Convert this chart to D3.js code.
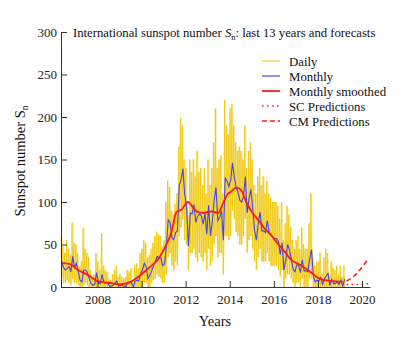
<!DOCTYPE html>
<html>
<head>
<meta charset="utf-8">
<script src="https://cdn.jsdelivr.net/npm/d3@7"></script>
<style>
  body { margin: 0; background: #fff; }
  svg { display: block; font-family: "Liberation Serif", "Times New Roman", serif; }
  .axis path, .axis line { stroke: #333; }
  .axis text { font-family: "Liberation Serif", serif; font-size: 13px; fill: #222; }
</style>
</head>
<body>
<svg id="chart" width="419" height="337"></svg>
<script>
// first month shown: May 2006
const firstMonth = 2006 + 4 / 12;

// monthly mean sunspot number, May 2006 .. Mar 2019
const monthly = [
  30, 23, 20, 22, 24, 18, 36, 23,
  28, 18, 8, 6, 20, 20, 17, 10, 4, 2, 3, 17,
  5, 4, 15, 5, 5, 5, 1, 1, 2, 5, 7, 1,
  2, 2, 1, 1, 5, 5, 5, 0, 7, 8, 7, 16,
  20, 28, 24, 10, 14, 19, 25, 30, 36, 34, 34, 25,
  27, 48, 79, 76, 58, 56, 64, 66, 120, 126, 139, 109,
  94, 48, 87, 86, 97, 76, 83, 86, 84, 74, 87, 62,
  96, 60, 77, 102, 117, 78, 82, 90, 55, 128, 125, 118,
  125, 146, 129, 117, 112, 102, 100, 106, 130, 87, 104, 115,
  93, 67, 55, 75, 88, 66, 66, 64, 78, 63, 62, 58,
  57, 57, 54, 38, 52, 20, 32, 50, 44, 33, 21, 18,
  26, 26, 17, 32, 19, 19, 18, 33, 44, 13, 6, 8,
  7, 11, 3, 9, 13, 16, 2, 9, 4, 4, 6, 3,
  8, 1, 9
];

// daily values: highest and lowest day of each month (same months)
const dailyHigh = [
  60, 48, 40, 55, 45, 38, 76, 52,
  50, 40, 25, 30, 69, 45, 40, 35, 20, 10, 15, 40,
  30, 20, 63, 25, 20, 18, 10, 8, 15, 20, 25, 12,
  15, 12, 10, 12, 20, 18, 22, 8, 25, 28, 22, 40,
  45, 55, 52, 35, 38, 45, 52, 60, 65, 62, 60, 48,
  55, 100, 125, 118, 90, 85, 98, 110, 165, 199, 190, 150,
  140, 85, 150, 135, 150, 130, 160, 135, 140, 120, 140, 110,
  150, 120, 140, 170, 210, 140, 150, 155, 110, 220, 190, 180,
  210, 215, 190, 170, 160, 165, 160, 150, 190, 140, 160, 170,
  150, 120, 110, 130, 140, 120, 130, 110, 125, 110, 105, 100,
  100, 100, 95, 80, 100, 55, 75, 95, 85, 70, 55, 45,
  55, 60, 45, 70, 50, 45, 45, 75, 110, 35, 25, 30,
  30, 40, 15, 35, 45, 40, 12, 30, 22, 20, 25, 15,
  25, 12, 25
];
const dailyLow = [
  10, 5, 5, 8, 5, 2, 10, 5,
  5, 2, 0, 0, 2, 5, 2, 0, 0, 0, 0, 0,
  0, 0, 0, 0, 0, 0, 0, 0, 0, 0, 0, 0,
  0, 0, 0, 0, 0, 0, 0, 0, 0, 0, 0, 0,
  0, 5, 5, 0, 0, 5, 8, 10, 15, 12, 10, 5,
  5, 15, 35, 40, 25, 20, 30, 25, 60, 70, 80, 55,
  50, 20, 40, 40, 45, 35, 30, 40, 35, 30, 40, 20,
  45, 25, 30, 50, 60, 35, 40, 40, 15, 60, 60, 55,
  60, 90, 80, 65, 60, 50, 50, 60, 80, 40, 55, 60,
  45, 30, 20, 35, 45, 30, 30, 30, 40, 30, 25, 25,
  25, 25, 20, 12, 20, 0, 10, 15, 15, 10, 5, 0,
  5, 5, 0, 10, 0, 0, 0, 10, 10, 0, 0, 0,
  0, 0, 0, 0, 0, 0, 0, 0, 0, 0, 0, 0,
  0, 0, 0
];

// 13-month smoothed
const smoothYears = [2006.36, 2006.75, 2007.12, 2007.57, 2008.0, 2008.5, 2009.0, 2009.5, 2009.95,
  2010.4, 2010.7, 2011.05, 2011.36, 2011.58, 2011.81, 2012.11, 2012.26, 2012.49, 2012.79,
  2013.17, 2013.47, 2013.69, 2013.92, 2014.05, 2014.3, 2014.52, 2014.75, 2014.98, 2015.28,
  2015.58, 2015.88, 2016.18, 2016.48, 2016.79, 2017.2, 2017.65, 2017.99, 2018.29, 2018.67, 2019.12];
const smoothVals = [28, 27, 20, 14, 7, 5, 3, 6, 14,
  24, 31, 46, 65, 88, 91, 100, 96, 89, 87,
  89, 87, 98, 110, 112, 117, 114, 100, 89, 79,
  69, 61, 51, 42, 32, 26, 18, 11, 8, 7, 6];

// forecasts
const scYears = [2019.3, 2019.8, 2020.3];
const scVals = [3, 3, 4];
const cmYears = [2019.3, 2019.6, 2019.9, 2020.25];
const cmVals = [7, 12, 20, 32];

const yTicks = [0, 50, 100, 150, 200, 250, 300];
const xTicks = [2008, 2010, 2012, 2014, 2016, 2018, 2020];

const legendItems = [
  {label: "Daily", color: "#f2c800", dash: null, w: 1},
  {label: "Monthly", color: "#4444ee", dash: null, w: 1.2},
  {label: "Monthly smoothed", color: "#ff1a1a", dash: null, w: 1.8},
  {label: "SC Predictions", color: "#ff1a1a", dash: "1.5,3.5", w: 1.5},
  {label: "CM Predictions", color: "#ff1a1a", dash: "5,3", w: 1.5}
];

const svg = d3.select("#chart");
svg.append("rect").attr("width", 419).attr("height", 337).attr("fill", "#fff");

const x = d3.scaleLinear().domain([2006.344, 2020.363]).range([61, 370]);
const y = d3.scaleLinear().domain([0, 300]).range([287, 32]);

const monthT = i => firstMonth + i / 12;

// light band of the daily spread
const band = d3.area()
  .x((d, i) => x(monthT(i) + 0.5 / 12))
  .y0((d, i) => y(dailyLow[i]))
  .y1(d => y(d))
  .curve(d3.curveStep);
svg.append("path")
  .attr("d", band(dailyHigh))
  .attr("fill", "#f7de6a")
  .attr("fill-opacity", 0.55);

// daily strands: high, low, mean in each month
const dailyPts = [];
monthly.forEach((m, i) => {
  dailyPts.push([monthT(i) + 0.15 / 12, dailyHigh[i]]);
  dailyPts.push([monthT(i) + 0.5 / 12, dailyLow[i]]);
  dailyPts.push([monthT(i) + 0.85 / 12, m]);
});

const line = d3.line().x(d => x(d[0])).y(d => y(d[1]));

svg.append("path")
  .attr("d", line(dailyPts))
  .attr("fill", "none")
  .attr("stroke", "#eec400")
  .attr("stroke-opacity", 0.9)
  .attr("stroke-width", 0.8);

svg.append("path")
  .attr("d", line(monthly.map((m, i) => [monthT(i) + 0.5 / 12, m])))
  .attr("fill", "none")
  .attr("stroke", "#4444ee")
  .attr("stroke-width", 1.1);

svg.append("path")
  .attr("d", line.curve(d3.curveMonotoneX)(smoothYears.map((t, i) => [t, smoothVals[i]])))
  .attr("fill", "none")
  .attr("stroke", "#ff1a1a")
  .attr("stroke-width", 1.8);

svg.append("path")
  .attr("d", line(scYears.map((t, i) => [t, scVals[i]])))
  .attr("fill", "none")
  .attr("stroke", "#ff1a1a")
  .attr("stroke-width", 1.5)
  .attr("stroke-dasharray", "1.5,3.5");

svg.append("path")
  .attr("d", line(cmYears.map((t, i) => [t, cmVals[i]])))
  .attr("fill", "none")
  .attr("stroke", "#ff1a1a")
  .attr("stroke-width", 1.5)
  .attr("stroke-dasharray", "5,3");

// axes, ticks inside
svg.append("g")
  .attr("class", "axis")
  .attr("transform", "translate(61,0)")
  .call(d3.axisLeft(y).tickValues(yTicks).tickSizeInner(-6).tickSizeOuter(0).tickPadding(4));

svg.append("g")
  .attr("class", "axis")
  .attr("transform", "translate(0,287)")
  .call(d3.axisBottom(x).tickValues(xTicks).tickFormat(d3.format("d")).tickSizeInner(-6).tickSizeOuter(0).tickPadding(8));

// title
const title = svg.append("text")
  .attr("x", 73).attr("y", 37)
  .attr("font-size", 12.7).attr("fill", "#111");
title.append("tspan").text("International sunspot number ");
title.append("tspan").attr("font-style", "italic").text("S");
title.append("tspan").attr("font-size", 8.5).attr("dy", 3).text("n");
title.append("tspan").attr("dy", -3).text(": last 13 years and forecasts");

// legend
const leg = svg.append("g");
legendItems.forEach((d, i) => {
  const ly = 61 + i * 15;
  leg.append("line")
    .attr("x1", 262).attr("x2", 280).attr("y1", ly).attr("y2", ly)
    .attr("stroke", d.color).attr("stroke-width", d.w)
    .attr("stroke-dasharray", d.dash);
  leg.append("text")
    .attr("x", 289).attr("y", ly + 4.5)
    .attr("font-size", 12.8).attr("fill", "#111")
    .text(d.label);
});

// axis labels
const yl = svg.append("text")
  .attr("transform", "translate(25,161) rotate(-90)")
  .attr("text-anchor", "middle")
  .attr("font-size", 14.5).attr("fill", "#111");
yl.append("tspan").text("Sunspot number ");
yl.append("tspan").text("S");
yl.append("tspan").attr("font-size", 9.5).attr("dy", 3).text("n");

svg.append("text")
  .attr("x", 215).attr("y", 326)
  .attr("text-anchor", "middle")
  .attr("font-size", 14.5).attr("fill", "#111")
  .text("Years");
</script>
</body>
</html>
